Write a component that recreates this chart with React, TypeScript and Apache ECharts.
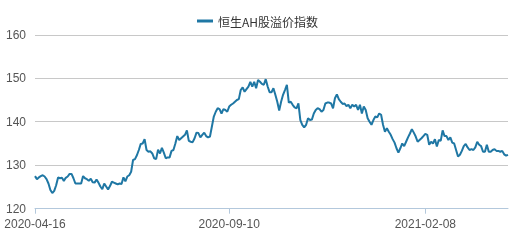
import React, { useEffect, useRef } from "react";
import * as echarts from "echarts";

const SERIES_NAME = "恒生AH股溢价指数";
const START_DATE = "2020-04-16";
const HOLIDAYS = [
  "2020-04-30", "2020-05-01", "2020-06-25", "2020-07-01", "2020-10-01", "2020-10-02",
  "2020-10-26", "2020-12-25", "2021-01-01", "2021-02-12", "2021-02-15", "2021-04-02",
  "2021-04-05", "2021-04-06",
];
const LABEL_DATES = ["2020-04-16", "2020-09-10", "2021-02-08"];
const Y_TICKS = [120, 130, 140, 150, 160];

const VALUES_PART1 = [
  127.5, 126.8, 127.2, 127.5, 127.7, 127.4, 126.8, 125.8, 124.3, 123.6,
  124.1, 125.4, 127.2, 127.0, 127.1, 126.4, 127.1, 127.4, 128.0, 128.0,
  127.0, 125.8, 125.8, 125.8, 125.8, 127.5, 127.0, 126.8, 126.4, 126.9,
  126.1, 126.0, 126.7, 126.0, 125.1, 124.5, 125.8, 125.1, 124.4, 125.2,
  126.2, 126.0, 125.8, 125.6, 125.8, 125.7, 127.2, 126.3, 127.4, 127.7,
  128.5, 131.2, 131.4, 132.3, 133.5, 134.9, 135.0, 136.0, 133.5, 133.1,
  133.2, 132.7, 131.6, 131.4, 133.6, 132.7, 134.0, 132.9, 131.6, 131.8,
  131.8, 133.3, 133.5, 135.0, 136.7, 135.8, 136.2, 136.6, 137.0, 138.0,
  135.6, 135.4, 135.3, 136.2, 137.5, 137.4, 136.4, 137.0, 137.5, 136.7,
  136.4, 136.6, 138.9, 141.2, 142.3, 143.1, 142.9, 141.9, 142.9, 142.7,
  142.3, 143.5, 143.9, 144.2, 144.6, 145.0, 145.2, 147.3, 147.9, 146.9,
  147.5, 148.1, 149.2, 148.1, 149.2,
];
const VALUES_PART2 = [
  147.7, 149.6, 149.2, 148.7, 148.5, 149.8, 148.1, 146.8, 146.8, 147.7,
  146.2, 144.6, 142.6, 144.6, 146.2, 147.3, 148.5, 144.4, 144.6, 143.9,
  143.3, 143.1, 144.2, 140.4, 139.3, 138.7, 139.3, 140.8, 140.4, 140.5,
  141.9, 142.7, 143.1, 142.9, 142.3, 142.7, 144.2, 144.4, 144.4, 144.2,
  143.1, 145.4, 146.3, 145.2, 144.6, 144.1, 144.2, 143.6, 143.9, 143.1,
  143.9, 143.5, 143.9, 142.7, 143.9, 141.9, 143.5, 142.7, 140.8, 140.0,
  139.3, 140.4, 141.2, 141.0, 141.9, 141.6, 139.3, 137.7, 138.5, 137.7,
  137.0, 136.0, 135.2, 133.9, 132.9, 133.9, 135.0, 134.4, 135.4, 136.4,
  137.3, 138.3, 137.5, 136.6, 135.4, 135.8, 136.2, 136.7, 137.2, 137.0,
  134.7, 135.4, 135.0, 136.0, 134.3, 135.8, 135.6, 138.0, 136.7, 136.7,
  135.8, 136.4, 135.2, 135.0, 133.5, 132.0, 132.4, 133.3, 134.4, 134.9,
  134.1, 133.5, 133.7, 133.5, 134.1, 135.4, 134.7, 134.4, 133.1, 133.1,
  134.7, 133.1, 133.1, 133.5, 133.7, 133.3, 133.3, 133.1, 133.3, 132.5,
  132.2, 132.4,
];
const VALUES = [...VALUES_PART1, ...VALUES_PART2];

function tradingDays(start: string, count: number, holidays: string[]): string[] {
  const out: string[] = [];
  const [y, m, d] = start.split("-").map(Number);
  let t = Date.UTC(y, m - 1, d);
  while (out.length < count) {
    const dt = new Date(t);
    const s = dt.toISOString().slice(0, 10);
    const wd = dt.getUTCDay();
    if (wd !== 0 && wd !== 6 && holidays.indexOf(s) < 0) out.push(s);
    t += 86400000;
  }
  return out;
}

const DATES = tradingDays(START_DATE, VALUES.length, HOLIDAYS);

export default function App() {
  const ref = useRef<HTMLDivElement>(null);
  useEffect(() => {
    if (!ref.current) return;
    const chart = echarts.init(ref.current, undefined, { renderer: "svg" });
    const showLabel = (_i: number, v: string) => LABEL_DATES.indexOf(v) >= 0;
    chart.setOption({
      animation: false,
      textStyle: { fontFamily: "Liberation Sans, Noto Sans CJK SC, sans-serif" },
      legend: {
        top: 10,
        left: "center",
        itemWidth: 16,
        itemHeight: 3,
        itemGap: 10,
        textStyle: { color: "#333", fontSize: 12, fontFamily: "Noto Sans CJK SC, sans-serif" },
        data: [{ name: SERIES_NAME, icon: "rect" }],
      },
      grid: { left: 35, right: 7, top: 34.8, bottom: 32.3, containLabel: false },
      xAxis: {
        type: "category",
        boundaryGap: false,
        data: DATES,
        axisLine: { lineStyle: { color: "#b3c8dc", width: 1 } },
        axisTick: { show: true, interval: showLabel, length: 5, lineStyle: { color: "#b3c8dc" } },
        axisLabel: { interval: showLabel, color: "#555", fontSize: 12, margin: 9 },
        splitLine: { show: false },
      },
      yAxis: {
        type: "value",
        min: Y_TICKS[0],
        max: Y_TICKS[Y_TICKS.length - 1],
        interval: 10,
        axisLine: { show: false },
        axisTick: { show: false },
        axisLabel: { color: "#555", fontSize: 12, margin: 9 },
        splitLine: { lineStyle: { color: "#c8c8c8", width: 1 } },
      },
      series: [
        {
          name: SERIES_NAME,
          type: "line",
          data: VALUES,
          symbol: "none",
          lineStyle: { color: "#1f77a4", width: 2 },
          itemStyle: { color: "#1f77a4" },
        },
      ],
    });
    return () => chart.dispose();
  }, []);
  return (
    <div
      ref={ref}
      style={{ position: "fixed", left: 0, top: 0, width: 515, height: 241 }}
    />
  );
}
